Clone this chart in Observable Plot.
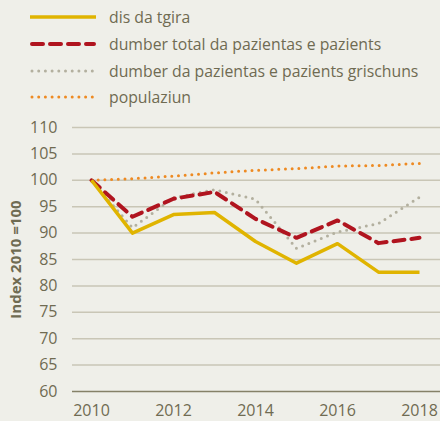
<!DOCTYPE html>
<html><head><meta charset="utf-8">
<script src="https://cdn.jsdelivr.net/npm/d3@7"></script>
<script src="https://cdn.jsdelivr.net/npm/@observablehq/plot@0.6"></script>
<style>
body{margin:0;background:#efefe9;font-family:"Open Sans",sans-serif;color:#6f6b52;}
#wrap{width:440px;height:421px;position:relative;overflow:hidden;}
#legend{position:absolute;left:0;top:0;width:440px;height:110px;}
.row{position:absolute;left:30px;height:27px;display:flex;align-items:center;font-size:15.8px;white-space:nowrap;}
.row svg{width:66px;height:10px;margin-right:13px;flex:none;}
#chart{position:absolute;left:0;top:110px;}
</style></head>
<body><div id="wrap"><div id="legend"></div><div id="chart"></div></div>
<script>
const years = [2010,2011,2012,2013,2014,2015,2016,2017,2018];
const disDaTgira = [100,90.0,93.5,93.9,88.4,84.3,88.0,82.6,82.6];
const dumberTotal = [100,93.1,96.5,97.8,92.7,89.1,92.4,88.1,89.1];
const dumberGrischuns = [100,91.0,96.7,98.2,96.4,87.1,90.2,91.8,96.8];
const populaziun = [100,100.3,100.8,101.4,101.9,102.2,102.7,102.8,103.2];
const yTicks = [60,65,70,75,80,85,90,95,100,105,110];
const xTicks = [2010,2012,2014,2016,2018];

const series = [
  {name:"dis da tgira", values:disDaTgira, color:"#e0b400", width:3.5, dash:null, cap:"butt"},
  {name:"dumber total da pazientas e pazients", values:dumberTotal, color:"#b0141f", width:4, dash:"11,7", cap:"round"},
  {name:"dumber da pazientas e pazients grischuns", values:dumberGrischuns, color:"#b3b09f", width:3, dash:"0,6.7", cap:"round"},
  {name:"populaziun", values:populaziun, color:"#ee8a22", width:3, dash:"0,6.7", cap:"round"}
];

const legend = document.getElementById("legend");
const rowY = [3,30,57,83];
series.forEach((s,i)=>{
  const r = document.createElement("div");
  r.className="row"; r.style.top=rowY[i]+"px";
  r.innerHTML = `<svg viewBox="0 0 66 10"><line x1="${s.cap==='round'?2:0}" y1="5" x2="${s.cap==='round'?64:66}" y2="5" stroke="${s.color}" stroke-width="${s.width}" stroke-linecap="${s.cap}" ${s.dash?`stroke-dasharray="${s.dash}"`:""}/></svg><span>${s.name}</span>`;
  legend.appendChild(r);
});

const data = [];
series.forEach(s => years.forEach((y,i)=>data.push({year:y, value:s.values[i], name:s.name})));

const marks = [
  Plot.ruleY(yTicks.filter(t=>t>60), {y:d=>d, x1:2010-19/41, x2:2018+21/41, stroke:"#c9c6b6", strokeWidth:1.5}),
  Plot.ruleY([60], {x1:2010-19/41, x2:2018+21/41, stroke:"#858168", strokeWidth:1.5}),
  Plot.axisY({ticks:yTicks, tickSize:0, tickPadding:15, fontSize:16, color:"#6f6b52", label:null}),
  Plot.axisX({ticks:xTicks, tickSize:0, tickPadding:13, fontSize:16, color:"#6f6b52", label:null, tickFormat:d=>String(d)}),
  Plot.text(["Index 2010 =100"], {frameAnchor:"left", textAnchor:"middle", dx:-56, rotate:-90, fontSize:15, fontWeight:"bold", fill:"#6f6b52"})
];
series.slice().reverse().forEach(s=>{
  marks.push(Plot.line(data.filter(d=>d.name===s.name), {x:"year", y:"value", stroke:s.color, strokeWidth:s.width, strokeDasharray:s.dash||undefined, strokeLinecap:s.cap, strokeLinejoin:"round"}));
});

const chart = Plot.plot({
  width:440, height:311,
  marginLeft:72, marginRight:0, marginTop:17, marginBottom:30,
  x:{domain:[2010-19/41, 2018+21/41]},
  y:{domain:[60,110]},
  style:{background:"transparent", fontFamily:"Open Sans, sans-serif", overflow:"visible"},
  marks
});
document.getElementById("chart").appendChild(chart);
</script></body></html>
